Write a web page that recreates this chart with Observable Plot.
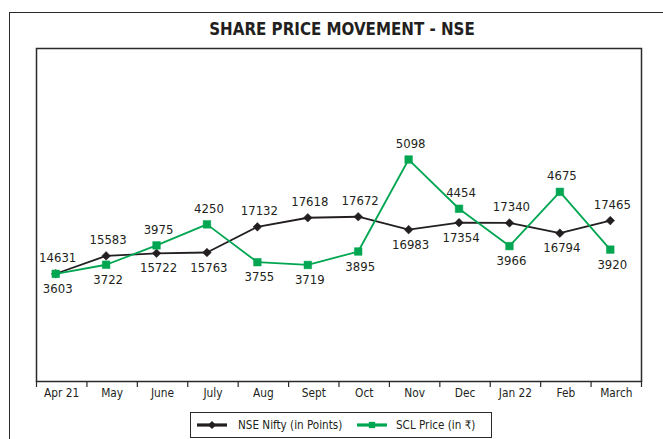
<!DOCTYPE html>
<html>
<head>
<meta charset="utf-8">
<script src="https://cdn.jsdelivr.net/npm/d3@7"></script>
<script src="https://cdn.jsdelivr.net/npm/@observablehq/plot@0.6"></script>
<style>
  html, body { margin: 0; padding: 0; background: #fff; width: 663px; height: 439px; overflow: hidden; }
  body { position: relative; font-family: "DejaVu Sans Condensed", "Liberation Sans", sans-serif; color: #231f20; }
  #outer { position: absolute; left: 9px; top: 12px; width: 720px; height: 520px; border: 1.4px solid #2a2a2a; box-sizing: border-box; }
  #title { position: absolute; left: 9px; width: 666px; top: 19px; text-align: center; font-weight: bold; font-size: 16.8px; }
  #chart { position: absolute; left: 0; top: 40px; }
  #legend { position: absolute; left: 190px; top: 412px; width: 302px; height: 26px; box-sizing: border-box; border: 1.4px solid #2a2a2a; background: #fff; font-size: 11.6px; }
  #legend .item { position: absolute; top: 0; height: 24px; display: flex; align-items: center; }
  #legend svg { display: block; }
</style>
</head>
<body>
<div id="outer"></div>
<div id="title">SHARE PRICE MOVEMENT - NSE</div>
<div id="chart"></div>
<div id="legend"></div>
<script>
// ---- data ----
const months = ["Apr 21", "May", "June", "July", "Aug", "Sept", "Oct", "Nov", "Dec", "Jan 22", "Feb", "March"];
const nifty = [14631, 15583, 15722, 15763, 17132, 17618, 17672, 16983, 17354, 17340, 16794, 17465];
const scl = [3603, 3722, 3975, 4250, 3755, 3719, 3895, 5098, 4454, 3966, 4675, 3920];
// hidden primary / secondary value-axis ranges
const niftyAxis = [8880, 26650];
const sclAxis = [2195, 6550];
const seriesNames = ["NSE Nifty (in Points)", "SCL Price (in \u20B9)"];

const ink = "#231f20";
const green = "#00a651";

const norm = (v, [a, b]) => (v - a) / (b - a);
const rows = months.map((m, i) => {
  const n = norm(nifty[i], niftyAxis);
  const s = norm(scl[i], sclAxis);
  return {i, m, nifty: nifty[i], scl: scl[i], n, s, nAbove: n >= s};
});

const boundaries = d3.range(months.length + 1).map(j => j - 0.5);
const fontStack = "'DejaVu Sans Condensed', 'Liberation Sans', sans-serif";
const shift = -6;
const labelSize = 13;

const chart = Plot.plot({
  width: 663,
  height: 365,
  marginLeft: 36,
  marginRight: 22,
  marginTop: 8,
  marginBottom: 24,
  style: {fontFamily: fontStack, color: ink, background: "transparent", overflow: "visible"},
  x: {type: "linear", domain: [-0.5, months.length - 0.5], axis: null},
  y: {domain: [0, 1], axis: null},
  marks: [
    Plot.frame({stroke: "#2a2a2a", strokeWidth: 1.5}),
    Plot.axisX({ticks: boundaries, tickSize: 6, tickFormat: () => "", label: null, stroke: "#2a2a2a", strokeWidth: 1.2}),
    Plot.axisX({ticks: d3.range(months.length), tickSize: 0, tickPadding: 7, tickFormat: i => months[i], label: null, fontSize: 11.8, fill: ink}),
    // NSE Nifty
    Plot.line(rows, {x: "i", y: "n", stroke: ink, strokeWidth: 1.8, dx: shift}),
    Plot.dot(rows, {x: "i", y: "n", symbol: "diamond2", r: 3.9, fill: ink, stroke: ink, strokeWidth: 0.5, dx: shift}),
    // SCL Price
    Plot.line(rows, {x: "i", y: "s", stroke: green, strokeWidth: 1.8, dx: shift}),
    Plot.dot(rows, {x: "i", y: "s", symbol: "square", r: 4.3, fill: green, stroke: green, strokeWidth: 0.5, dx: shift}),
    // labels: the higher series is labelled above, the lower below
    Plot.text(rows.filter(d => d.nAbove), {x: "i", y: "n", text: d => String(d.nifty), dy: -16, dx: shift + 2, fontSize: labelSize, fill: ink}),
    Plot.text(rows.filter(d => !d.nAbove), {x: "i", y: "n", text: d => String(d.nifty), dy: 15, dx: shift + 2, fontSize: labelSize, fill: ink}),
    Plot.text(rows.filter(d => !d.nAbove), {x: "i", y: "s", text: d => String(d.scl), dy: -16, dx: shift + 2, fontSize: labelSize, fill: ink}),
    Plot.text(rows.filter(d => d.nAbove), {x: "i", y: "s", text: d => String(d.scl), dy: 15, dx: shift + 2, fontSize: labelSize, fill: ink})
  ]
});
document.getElementById("chart").appendChild(chart);

// ---- legend ----
const legend = document.getElementById("legend");
function swatch(color, kind) {
  const ns = "http://www.w3.org/2000/svg";
  const s = document.createElementNS(ns, "svg");
  s.setAttribute("width", 32); s.setAttribute("height", 12);
  const l = document.createElementNS(ns, "line");
  l.setAttribute("x1", 1); l.setAttribute("x2", 31); l.setAttribute("y1", 6); l.setAttribute("y2", 6);
  l.setAttribute("stroke", color); l.setAttribute("stroke-width", 3.2);
  s.appendChild(l);
  const sym = document.createElementNS(ns, "path");
  const gen = d3.symbol(kind === "diamond" ? d3.symbolDiamond2 : d3.symbolSquare, 40);
  sym.setAttribute("d", gen());
  sym.setAttribute("transform", "translate(16,6)");
  sym.setAttribute("fill", color);
  s.appendChild(sym);
  return s;
}
[[ink, "diamond", 5, seriesNames[0]], [green, "square", 165, seriesNames[1]]].forEach(([c, k, left, name]) => {
  const item = document.createElement("div");
  item.className = "item";
  item.style.left = left + "px";
  item.appendChild(swatch(c, k));
  const t = document.createElement("span");
  t.textContent = name;
  t.style.marginLeft = (k === "diamond" ? 10 : 8) + "px";
  item.appendChild(t);
  legend.appendChild(item);
});
</script>
</body>
</html>
